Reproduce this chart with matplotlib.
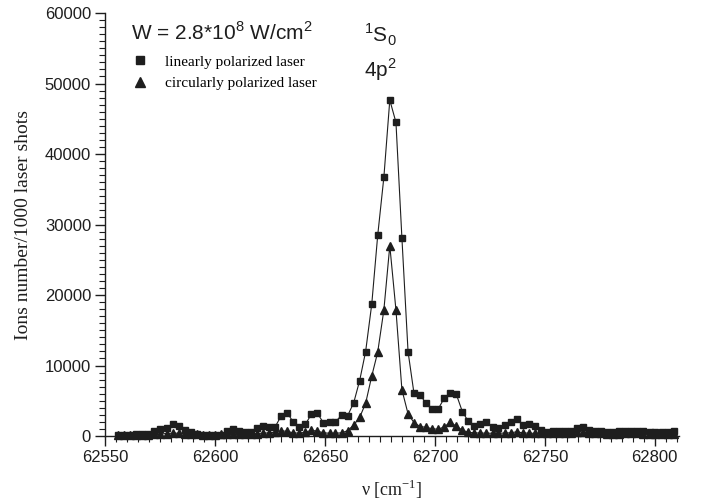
import matplotlib
matplotlib.use("Agg")
import matplotlib.pyplot as plt
from matplotlib.lines import Line2D
from matplotlib.ticker import MultipleLocator

# wavenumber scan (cm^-1), shared by both series
wavenumber = [
    62556.0, 62558.7, 62561.5, 62564.2, 62567.0, 62569.7, 62572.5, 62575.2,
    62578.0, 62580.7, 62583.5, 62586.2, 62588.9, 62591.7, 62594.4, 62597.2,
    62599.9, 62602.7, 62605.4, 62608.2, 62610.9, 62613.6, 62616.4, 62619.1,
    62621.9, 62624.6, 62627.4, 62630.1, 62632.9, 62635.6, 62638.4, 62641.1,
    62643.8, 62646.6, 62649.3, 62652.1, 62654.8, 62657.6, 62660.3, 62663.1,
    62665.8, 62668.5, 62671.3, 62674.0, 62676.8, 62679.5, 62682.3, 62685.0,
    62687.8, 62690.5, 62693.3, 62696.0, 62698.7, 62701.5, 62704.2, 62707.0,
    62709.7, 62712.5, 62715.2, 62718.0, 62720.7, 62723.4, 62726.2, 62728.9,
    62731.7, 62734.4, 62737.2, 62739.9, 62742.7, 62745.4, 62748.2, 62750.9,
    62753.6, 62756.4, 62759.1, 62761.9, 62764.6, 62767.4, 62770.1, 62772.9,
    62775.6, 62778.3, 62781.1, 62783.8, 62786.6, 62789.3, 62792.1, 62794.8,
    62797.6, 62800.3, 62803.1, 62805.8, 62808.6,
]

# ions per 1000 shots, linearly polarized laser
linear_ions = [
    200, 200, 200, 220, 280, 330, 710, 1040,
    1180, 1650, 1420, 900, 520, 280, 190, 190,
    150, 190, 710, 990, 710, 520, 610, 1180,
    1470, 1320, 1320, 2850, 3260, 1990, 1320, 1650,
    3070, 3210, 1890, 2030, 2030, 2950, 2860, 4730,
    7870, 11960, 18720, 28460, 36690, 47660, 44490, 28130,
    11960, 6050, 5820, 4630, 3830, 3830, 5340, 6150,
    5960, 3450, 2080, 1440, 1650, 1960, 1250, 1150,
    1600, 1960, 2360, 1600, 1680, 1440, 850, 600,
    650, 650, 650, 650, 1090, 1300, 850, 650,
    650, 580, 580, 650, 750, 750, 750, 680,
    600, 600, 520, 580, 680,
]

# ions per 1000 shots, circularly polarized laser
circular_ions = [
    150, 150, 150, 150, 180, 200, 250, 300,
    350, 400, 400, 350, 300, 250, 200, 200,
    200, 250, 300, 350, 300, 300, 300, 350,
    400, 450, 550, 750, 650, 450, 400, 550,
    800, 700, 450, 400, 400, 450, 760, 1550,
    2650, 4630, 8510, 11900, 17870, 27000, 17870, 6580,
    3140, 1900, 1350, 1230, 1040, 950, 1300, 1950,
    1400, 830, 520, 450, 420, 400, 400, 400,
    420, 450, 600, 450, 400, 380, 380, 380,
    380, 380, 380, 420, 600, 550, 400, 380,
    380, 350, 350, 350, 380, 380, 380, 350,
    350, 350, 350, 350, 350,
]

SANS = "Liberation Sans"
SERIF = "Liberation Serif"
INK = "#1e1e1e"

fig = plt.figure(figsize=(7.07, 5.01), dpi=100)
ax = fig.add_axes([0.1485, 0.1297, 0.8119, 0.8443])

ax.plot(wavenumber, circular_ions, color=INK, lw=0.8, marker="^", ms=6,
        mec=INK, mfc=INK, clip_on=False, zorder=3)
ax.plot(wavenumber, linear_ions, color=INK, lw=0.8, marker="s", ms=5,
        mec=INK, mfc=INK, clip_on=False, zorder=4)

ax.set_xlim(62550, 62811)
ax.set_ylim(0, 60000)
ax.xaxis.set_major_locator(MultipleLocator(50))
ax.xaxis.set_minor_locator(MultipleLocator(5))
ax.yaxis.set_major_locator(MultipleLocator(10000))
ax.yaxis.set_minor_locator(MultipleLocator(1000))

for side in ("top", "right"):
    ax.spines[side].set_visible(False)
for side in ("left", "bottom"):
    ax.spines[side].set_linewidth(1.0)
    ax.spines[side].set_color(INK)

ax.tick_params(which="major", direction="out", length=7, width=1.0,
               color=INK, labelcolor=INK, labelsize=12, pad=3)
ax.tick_params(which="minor", direction="out", length=4, width=0.8, color=INK)
for lab in ax.get_xticklabels() + ax.get_yticklabels():
    lab.set_fontfamily(SANS)

ax.set_xlabel("ν [cm$^{\\mathregular{-1}}$]", family=SERIF, fontsize=13,
              color=INK, labelpad=9)
ax.set_ylabel("Ions number/1000 laser shots", family=SERIF, fontsize=14,
              color=INK, labelpad=9)

ax.text(0.045, 0.955, "W = 2.8*10$^{\\mathregular{8}}$ W/cm$^{\\mathregular{2}}$",
        transform=ax.transAxes, family=SANS, fontsize=15, color=INK,
        ha="left", va="center")

ax.text(0.48, 0.948, "$^{\\mathregular{1}}$S$_{\\mathregular{0}}$",
        transform=ax.transAxes, family=SANS, fontsize=15, color=INK,
        ha="center", va="center")
ax.text(0.48, 0.866, "4p$^{\\mathregular{2}}$",
        transform=ax.transAxes, family=SANS, fontsize=15, color=INK,
        ha="center", va="center")

handles = [
    Line2D([], [], ls="none", marker="s", ms=6, color=INK),
    Line2D([], [], ls="none", marker="^", ms=7, color=INK),
]
ax.legend(handles, ["linearly polarized laser", "circularly polarized laser"],
          loc="upper left", bbox_to_anchor=(0.035, 0.915), frameon=False,
          prop={"family": SERIF, "size": 11}, handlelength=1.2,
          handletextpad=1.0, labelspacing=0.5, borderaxespad=0)

fig.savefig("out.png", dpi=100)
